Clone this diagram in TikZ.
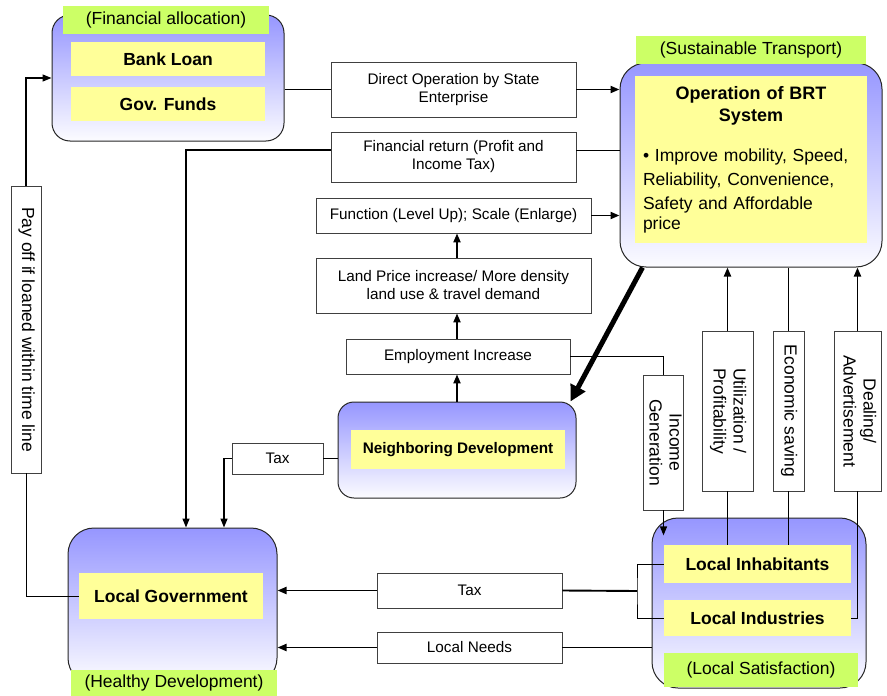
\documentclass[tikz,border=0pt]{standalone}
\usepackage{fontspec}
\setmainfont{Liberation Sans}
\usetikzlibrary{arrows.meta,positioning,calc}

\definecolor{grptop}{RGB}{150,150,255}
\definecolor{grpbot}{RGB}{252,252,255}
\definecolor{itemyellow}{RGB}{255,255,153}
\definecolor{taggreen}{RGB}{204,255,102}

\newcommand{\boxfont}{\fontsize{15.3}{18}\selectfont}
\newcommand{\headfont}{\fontsize{17.5}{20}\selectfont}
\newcommand{\sidetext}[1]{\rotatebox{-90}{\begin{tabular}{@{}c@{}}#1\end{tabular}}}

\tikzset{
  grpbox/.style={draw=black!85, line width=1pt, top color=grptop, bottom color=grpbot, inner sep=0pt},
  itembox/.style={fill=itemyellow, inner sep=0pt, font=\headfont\bfseries},
  tagbox/.style={fill=taggreen, inner sep=0pt, font=\headfont},
  basebox/.style={draw=black!75, line width=0.8pt, fill=white, inner sep=0pt},
  flowbox/.style={basebox, align=center, font=\boxfont},
  sidebox/.style={basebox, font=\headfont},
  link/.style={line width=1pt},
  heavy/.style={line width=1.9pt},
  flow/.style={heavy, -{Triangle[length=9pt,width=7pt]}},
}

\begin{document}
\begin{tikzpicture}[x=1pt,y=-1pt]
\useasboundingbox (0,0) rectangle (887,696);

% Financial allocation
\node[grpbox, rounded corners=18pt, minimum width=232pt, minimum height=126pt] (fin) at (168,78) {};
\node[tagbox, minimum width=206pt, minimum height=28pt] (fintag) at (166,20) {(Financial allocation)};
\node[itembox, minimum width=194pt, minimum height=34pt] (bankloan) at (168,59) {Bank Loan};
\node[itembox, minimum width=194pt, minimum height=34pt] (govfund) at (168,104) {Gov. Funds};

% Sustainable transport
\node[grpbox, rounded corners=26pt, minimum width=262pt, minimum height=204pt] (brt) at (751,165) {};
\node[tagbox, minimum width=230pt, minimum height=28pt] (brttag) at (751,50) {(Sustainable Transport)};
\node[itembox, font=\headfont, text width=216pt, inner xsep=8pt, minimum height=167pt, align=left] (brtsys) at (751,159.5) {%
  {\centering\bfseries\fontsize{18}{22}\selectfont Operation of BRT\\System\par}\vspace{16pt}%
  \fontsize{17.5}{24}\selectfont • Improve mobility, Speed,\\Reliability, Convenience,\\Safety and Affordable\\price};

% Neighboring development
\node[grpbox, rounded corners=16pt, minimum width=238pt, minimum height=96pt] (neighdev) at (457,450) {};
\node[itembox, font=\boxfont\bfseries, minimum width=214pt, minimum height=39pt] (neighitem) at (458,449.5) {Neighboring Development};

% Healthy development
\node[grpbox, rounded corners=26pt, minimum width=209pt, minimum height=156pt] (locgov) at (172.5,606) {};
\node[itembox, minimum width=184pt, minimum height=46pt] (govitem) at (171,596) {Local Government};
\node[tagbox, minimum width=206pt, minimum height=26pt] (healthtag) at (174,683) {(Healthy Development)};

% Local satisfaction
\node[grpbox, rounded corners=26pt, minimum width=214pt, minimum height=170pt] (locsat) at (759,603) {};
\node[itembox, minimum width=187pt, minimum height=38pt] (inhab) at (757.5,564) {Local Inhabitants};
\node[itembox, minimum width=187pt, minimum height=36pt] (indus) at (757.5,618) {Local Industries};
\node[tagbox, minimum width=194pt, minimum height=34pt] (sattag) at (761,670) {(Local Satisfaction)};

% flow boxes
\node[flowbox, minimum width=245pt, minimum height=55pt] (directop) at (453.5,89.5) {Direct Operation by State\\Enterprise};
\node[flowbox, minimum width=245pt, minimum height=50pt] (finret) at (453.5,157) {Financial return (Profit and\\Income Tax)};
\node[flowbox, minimum width=275pt, minimum height=35pt] (funcscale) at (453.5,215.5) {Function (Level Up); Scale (Enlarge)};
\node[flowbox, minimum width=275pt, minimum height=55pt] (landprice) at (453.5,285.5) {Land Price increase/ More density\\land use \& travel demand};
\node[flowbox, minimum width=224pt, minimum height=35pt] (employ) at (458,356.5) {Employment Increase};
\node[flowbox, minimum width=91pt, minimum height=31pt] (taxup) at (277.5,458.5) {Tax};
\node[flowbox, minimum width=185pt, minimum height=35pt] (taxdown) at (469.5,590.5) {Tax};
\node[flowbox, minimum width=185pt, minimum height=31pt] (needs) at (469.5,647.5) {Local Needs};

% vertical boxes
\node[sidebox, minimum width=30pt, minimum height=287pt] (payoff) at (26,329.5) {\sidetext{Pay off if loaned within time line}};
\node[sidebox, minimum width=39pt, minimum height=135pt] (incgen) at (663.5,442.5) {\sidetext{Income\\Generation}};
\node[sidebox, minimum width=51pt, minimum height=160pt] (utilprof) at (727.5,411) {\sidetext{Utilization /\\Profitability}};
\node[sidebox, minimum width=31pt, minimum height=160pt] (econsav) at (788.5,411) {\sidetext{Economic saving}};
\node[sidebox, minimum width=47pt, minimum height=160pt] (dealadv) at (857.5,411) {\sidetext{Dealing/\\Advertisement}};

% connectors
\draw[flow, line width=1.4pt] (payoff.north) |- (fin.west);
\draw[link] (payoff.south) |- (govitem.west);
\draw[heavy] (directop.west -| fin.east) -- (directop.west);
\draw[flow] (directop.east) -- (directop.east -| brt.west);
\draw[link] ([yshift=7pt]finret.east) -- ([yshift=7pt]finret.east -| brt.west);
\draw[flow, line width=1.4pt] ([yshift=7pt]finret.west) -| ([xshift=13.5pt]locgov.north);
\draw[flow] (funcscale.east) -- (funcscale.east -| brt.west);
\draw[flow] (landprice.north -| neighdev.north) -- (funcscale.south -| neighdev.north);
\draw[flow] (employ.north -| neighdev.north) -- (landprice.south -| neighdev.north);
\draw[flow] (neighdev.north) -- (employ.south -| neighdev.north);
\draw[line width=5pt, -{Triangle[length=16pt,width=16pt]}] ([xshift=23pt]brt.south west) -- ([xshift=-6pt]neighdev.north east);
\draw[link] (employ.east) -| (incgen.north);
\draw[flow, line width=1.4pt] (incgen.south) -- ++(0,25);
\draw[link] (utilprof.south) -- (utilprof.south |- inhab.north);
\draw[flow] (utilprof.north) -- (utilprof.north |- brt.south);
\draw[link] (econsav.south) -- (econsav.south |- inhab.north);
\draw[link] (econsav.north) -- (econsav.north |- brt.south);
\draw[link] (indus.east) -| (dealadv.south);
\draw[flow] (dealadv.north) -- (dealadv.north |- brt.south);
\coordinate (taxjoin) at (637,591);
\draw[link] (inhab.west) -| (taxjoin) |- (indus.west);
\draw[heavy] (taxjoin) -- (taxdown.east);
\draw[flow] (taxdown.west) -- (taxdown.west -| locgov.east);
\draw[heavy] (needs.east) -- (needs.east -| locsat.west);
\draw[flow] (needs.west) -- (needs.west -| locgov.east);
\draw[link] (taxup.east) -- (taxup.east -| neighdev.west);
\draw[flow, line width=1.4pt] (taxup.west) -| ([xshift=51.5pt]locgov.north);
\end{tikzpicture}
\end{document}
